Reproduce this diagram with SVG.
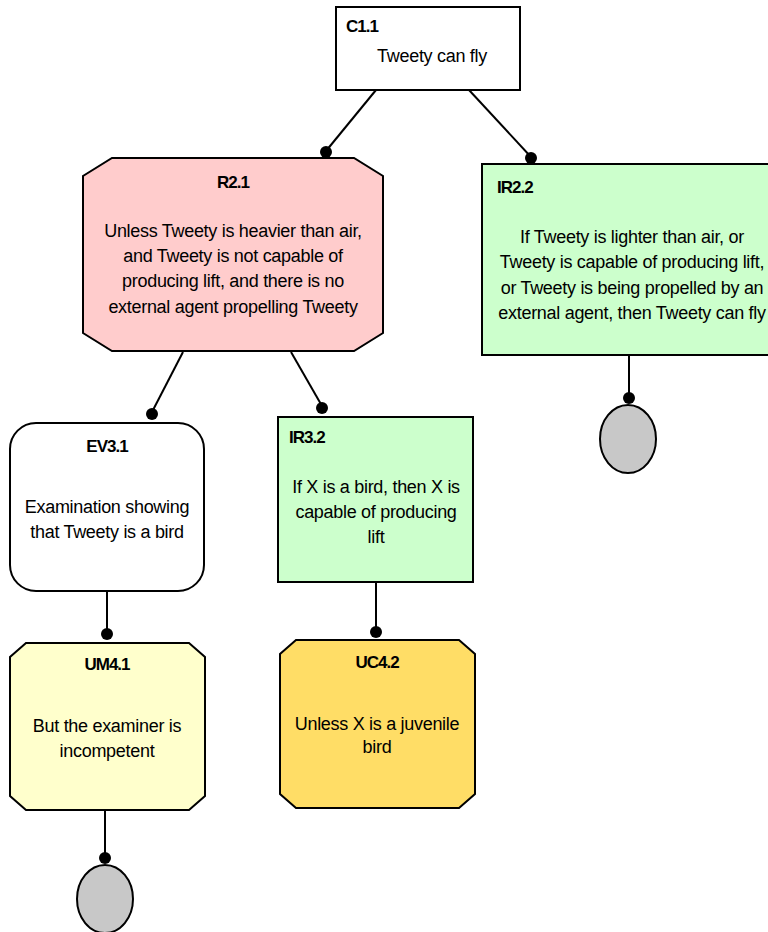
<svg xmlns="http://www.w3.org/2000/svg" width="768" height="932" viewBox="0 0 768 932">
  <style>
    .box { stroke: #000; stroke-width: 2; }
    .id { font-family: "Liberation Sans", Arial, sans-serif; font-size: 17px; font-weight: bold; fill: #000; letter-spacing: -1px; }
    .txt { font-family: "Liberation Sans", Arial, sans-serif; font-size: 18px; fill: #000; letter-spacing: -0.3px; text-anchor: middle; }
    .link { stroke: #000; stroke-width: 2; fill: none; }
    .dot { fill: #000; }
    .leaf { fill: #c8c8c8; stroke: #000; stroke-width: 2; }
  </style>

  <!-- connectors -->
  <g id="connectors">
    <line class="link" x1="376" y1="90" x2="326" y2="151"/>
    <circle class="dot" cx="326" cy="152" r="6"/>
    <line class="link" x1="469" y1="90" x2="531" y2="157"/>
    <circle class="dot" cx="531" cy="158" r="6"/>
    <line class="link" x1="183" y1="352" x2="152" y2="412"/>
    <circle class="dot" cx="152" cy="414" r="6"/>
    <line class="link" x1="291" y1="352" x2="322" y2="406"/>
    <circle class="dot" cx="322" cy="408" r="6"/>
    <line class="link" x1="629" y1="355" x2="629" y2="396"/>
    <circle class="dot" cx="629" cy="398" r="6"/>
    <line class="link" x1="107" y1="591" x2="107" y2="632"/>
    <circle class="dot" cx="107" cy="634" r="6"/>
    <line class="link" x1="376" y1="582" x2="376" y2="630"/>
    <circle class="dot" cx="376" cy="632" r="6"/>
    <line class="link" x1="105" y1="810" x2="105" y2="856"/>
    <circle class="dot" cx="105" cy="858" r="6"/>
  </g>

  <!-- claim -->
  <g id="C1.1">
    <rect class="box" x="336" y="7" width="184" height="83" fill="#fff"/>
    <text class="id" x="346" y="32">C1.1</text>
    <text class="txt" x="432" y="62">Tweety can fly</text>
  </g>

  <!-- rebuttal -->
  <g id="R2.1">
    <polygon class="box" fill="#ffcccc" points="112,158 354,158 383,176 383,333 354,351 112,351 83,333 83,176"/>
    <text class="id" x="233" y="188" text-anchor="middle">R2.1</text>
    <text class="txt" x="233" y="237">Unless Tweety is heavier than air,</text>
    <text class="txt" x="233" y="262">and Tweety is not capable of</text>
    <text class="txt" x="233" y="287">producing lift, and there is no</text>
    <text class="txt" x="233" y="313">external agent propelling Tweety</text>
  </g>

  <!-- inference rule -->
  <g id="IR2.2">
    <rect class="box" x="482" y="164" width="300" height="191" fill="#ccffcc"/>
    <text class="id" x="497" y="193">IR2.2</text>
    <text class="txt" x="632" y="243">If Tweety is lighter than air, or</text>
    <text class="txt" x="632" y="268">Tweety is capable of producing lift,</text>
    <text class="txt" x="632" y="294">or Tweety is being propelled by an</text>
    <text class="txt" x="632" y="319">external agent, then Tweety can fly</text>
  </g>
  <g id="leaf-IR2.2">
    <ellipse class="leaf" cx="628" cy="439" rx="28" ry="34"/>
  </g>

  <!-- evidence -->
  <g id="EV3.1">
    <rect class="box" x="10" y="423" width="194" height="168" rx="26" ry="26" fill="#fff"/>
    <text class="id" x="107" y="452" text-anchor="middle">EV3.1</text>
    <text class="txt" x="107" y="513">Examination showing</text>
    <text class="txt" x="107" y="538">that Tweety is a bird</text>
  </g>

  <!-- inference rule -->
  <g id="IR3.2">
    <rect class="box" x="278" y="417" width="195" height="165" fill="#ccffcc"/>
    <text class="id" x="289" y="443">IR3.2</text>
    <text class="txt" x="376" y="493">If X is a bird, then X is</text>
    <text class="txt" x="376" y="518">capable of producing</text>
    <text class="txt" x="376" y="543">lift</text>
  </g>

  <!-- undermining -->
  <g id="UM4.1">
    <polygon class="box" fill="#ffffcc" points="26,643 189,643 205,657 205,796 189,810 26,810 10,796 10,657"/>
    <text class="id" x="107" y="670" text-anchor="middle">UM4.1</text>
    <text class="txt" x="107" y="732">But the examiner is</text>
    <text class="txt" x="107" y="757">incompetent</text>
  </g>
  <g id="leaf-UM4.1">
    <ellipse class="leaf" cx="105" cy="899" rx="28" ry="34"/>
  </g>

  <!-- undercutter -->
  <g id="UC4.2">
    <polygon class="box" fill="#ffdd66" points="296,640 459,640 475,654 475,794 459,808 296,808 280,794 280,654"/>
    <text class="id" x="377" y="668" text-anchor="middle">UC4.2</text>
    <text class="txt" x="377" y="730">Unless X is a juvenile</text>
    <text class="txt" x="377" y="753">bird</text>
  </g>
</svg>
